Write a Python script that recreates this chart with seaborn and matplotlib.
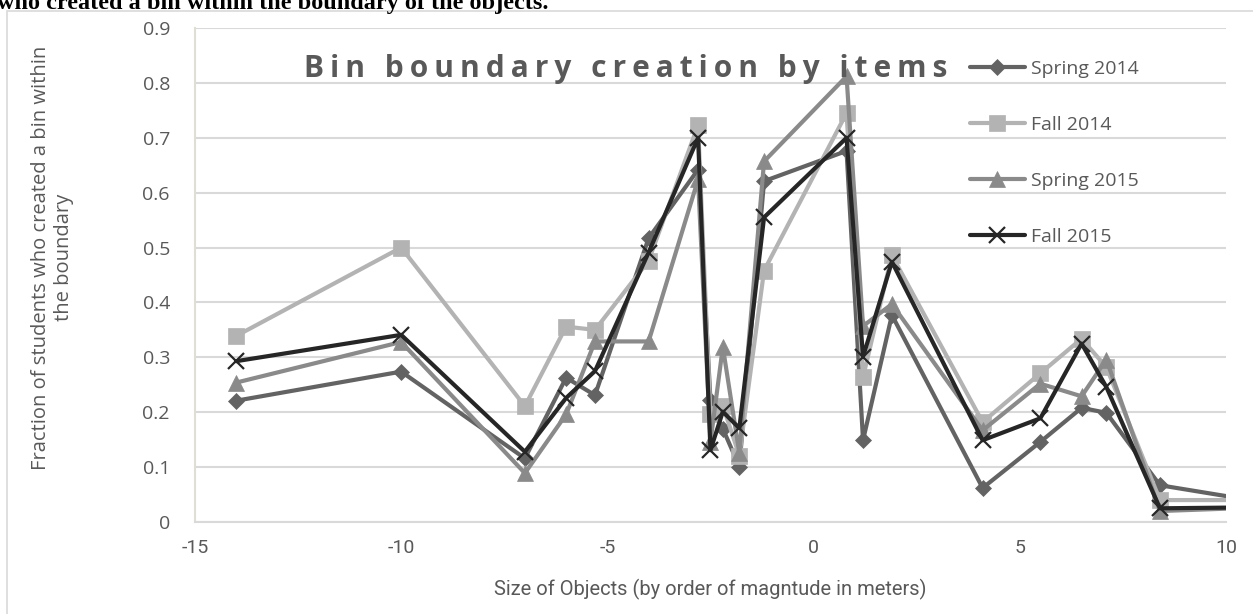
import matplotlib
matplotlib.use("Agg")
import matplotlib.pyplot as plt
import matplotlib.patches as mpatches
import seaborn as sns
import pandas as pd

# Data
sizes = [-14, -10, -7, -6, -5.3, -4, -2.8, -2.5, -2.2, -1.8, -1.2, 0.8, 1.2, 1.9, 4.1, 5.5, 6.5, 7.1, 8.4, 11]
spring_2014 = [0.221, 0.274, 0.116, 0.263, 0.231, 0.517, 0.642, 0.222, 0.170, 0.101, 0.621, 0.676, 0.149, 0.377, 0.062, 0.146, 0.208, 0.199, 0.067, 0.035]
fall_2014 = [0.339, 0.500, 0.211, 0.356, 0.350, 0.476, 0.723, 0.196, 0.212, 0.121, 0.458, 0.745, 0.264, 0.486, 0.182, 0.271, 0.334, 0.282, 0.040, 0.040]
spring_2015 = [0.254, 0.328, 0.089, 0.196, 0.329, 0.329, 0.624, 0.146, 0.319, 0.126, 0.657, 0.812, 0.357, 0.397, 0.167, 0.252, 0.229, 0.296, 0.020, 0.027]
fall_2015 = [0.293, 0.341, 0.128, 0.226, 0.275, 0.491, 0.700, 0.131, 0.201, 0.171, 0.555, 0.700, 0.301, 0.474, 0.149, 0.189, 0.325, 0.246, 0.025, 0.027]

semesters = ["Spring 2014", "Fall 2014", "Spring 2015", "Fall 2015"]
series = [spring_2014, fall_2014, spring_2015, fall_2015]
colors = ["#636363", "#b3b3b3", "#8a8a8a", "#262626"]
markers = ["D", "s", "^", "x"]
msizes = [8.5, 11, 11, 11]

y_ticks = [0, 0.1, 0.2, 0.3, 0.4, 0.5, 0.6, 0.7, 0.8, 0.9]
y_labels = ["0", "0.1", "0.2", "0.3", "0.4", "0.5", "0.6", "0.7", "0.8", "0.9"]
x_ticks = [-15, -10, -5, 0, 5, 10]
x_labels = ["-15", "-10", "-5", "0", "5", "10"]

df = pd.concat([pd.DataFrame({"size": sizes, "fraction": vals, "semester": name})
                for name, vals in zip(semesters, series)], ignore_index=True)

sns.set_style("white")
plt.rcParams["font.family"] = ["Open Sans", "DejaVu Sans"]
text_grey = "#595959"
grid_grey = "#d9d9d9"
narrow = ["Roboto", "DejaVu Sans"]

fig = plt.figure(figsize=(12.53, 6.14), dpi=100)
ax = fig.add_axes([0.1556, 0.1498, 0.8228, 0.8046])

for name, col, mk, ms in zip(semesters, colors, markers, msizes):
    sub = df[df["semester"] == name]
    sns.lineplot(data=sub, x="size", y="fraction", ax=ax, color=col, sort=False,
                 linewidth=3, marker=mk, markersize=ms, markeredgecolor=col,
                 markerfacecolor=col, markeredgewidth=1.6 if mk == "x" else 0.5,
                 label=name, legend=False)

ax.set_xlim(-15, 10)
ax.set_ylim(0, 0.9)
ax.set_yticks(y_ticks)
ax.set_yticklabels(y_labels)
ax.set_xticks(x_ticks)
ax.set_xticklabels(x_labels, family=narrow)
ax.tick_params(axis="both", length=0, labelsize=14, colors=text_grey)
ax.tick_params(axis="y", pad=18)
ax.tick_params(axis="x", pad=12)
ax.yaxis.grid(True, color=grid_grey, linewidth=1.5)
ax.set_axisbelow(True)
for side in ["top", "right"]:
    ax.spines[side].set_visible(False)
ax.spines["left"].set_color("#e0ddd5")
ax.spines["bottom"].set_color(grid_grey)
ax.spines["left"].set_linewidth(1.5)
ax.spines["bottom"].set_linewidth(1.5)

ax.set_xlabel("Size of Objects (by order of magntude in meters)", fontsize=14.5,
              color=text_grey, family=narrow, labelpad=16)
ax.set_ylabel("Fraction of students who created a bin within\nthe boundary", fontsize=14.5,
              color=text_grey, linespacing=1.2)
ax.yaxis.set_label_coords(-0.117, 0.535)

title = "\u2009".join("Bin boundary creation by items")
ax.text(0.418, 0.918, title, transform=ax.transAxes, ha="center", va="center",
        fontsize=21.5, fontweight="bold", color=text_grey)

handles, labels = ax.get_legend_handles_labels()
ax.legend(handles, labels, loc="upper left", bbox_to_anchor=(0.752, 0.935),
          frameon=False, fontsize=14, labelcolor=text_grey, handlelength=2.8,
          handletextpad=0.3, labelspacing=1.95, borderpad=0, borderaxespad=0)

# outer chart border and the caption cut off above the chart
fig.patches.append(mpatches.Rectangle((7 / 1253, -0.05), 1.2, 1.05 - 11 / 614,
                                      transform=fig.transFigure, fill=False,
                                      edgecolor="#d9d9d9", linewidth=1.2))
fig.text(-0.002, 1 - 9 / 614, "who created a bin within the boundary of the objects.",
         family=["Liberation Serif", "DejaVu Serif"], fontweight="bold", fontsize=17.5,
         va="baseline", ha="left", color="black")

fig.savefig("out.png", dpi=100)
